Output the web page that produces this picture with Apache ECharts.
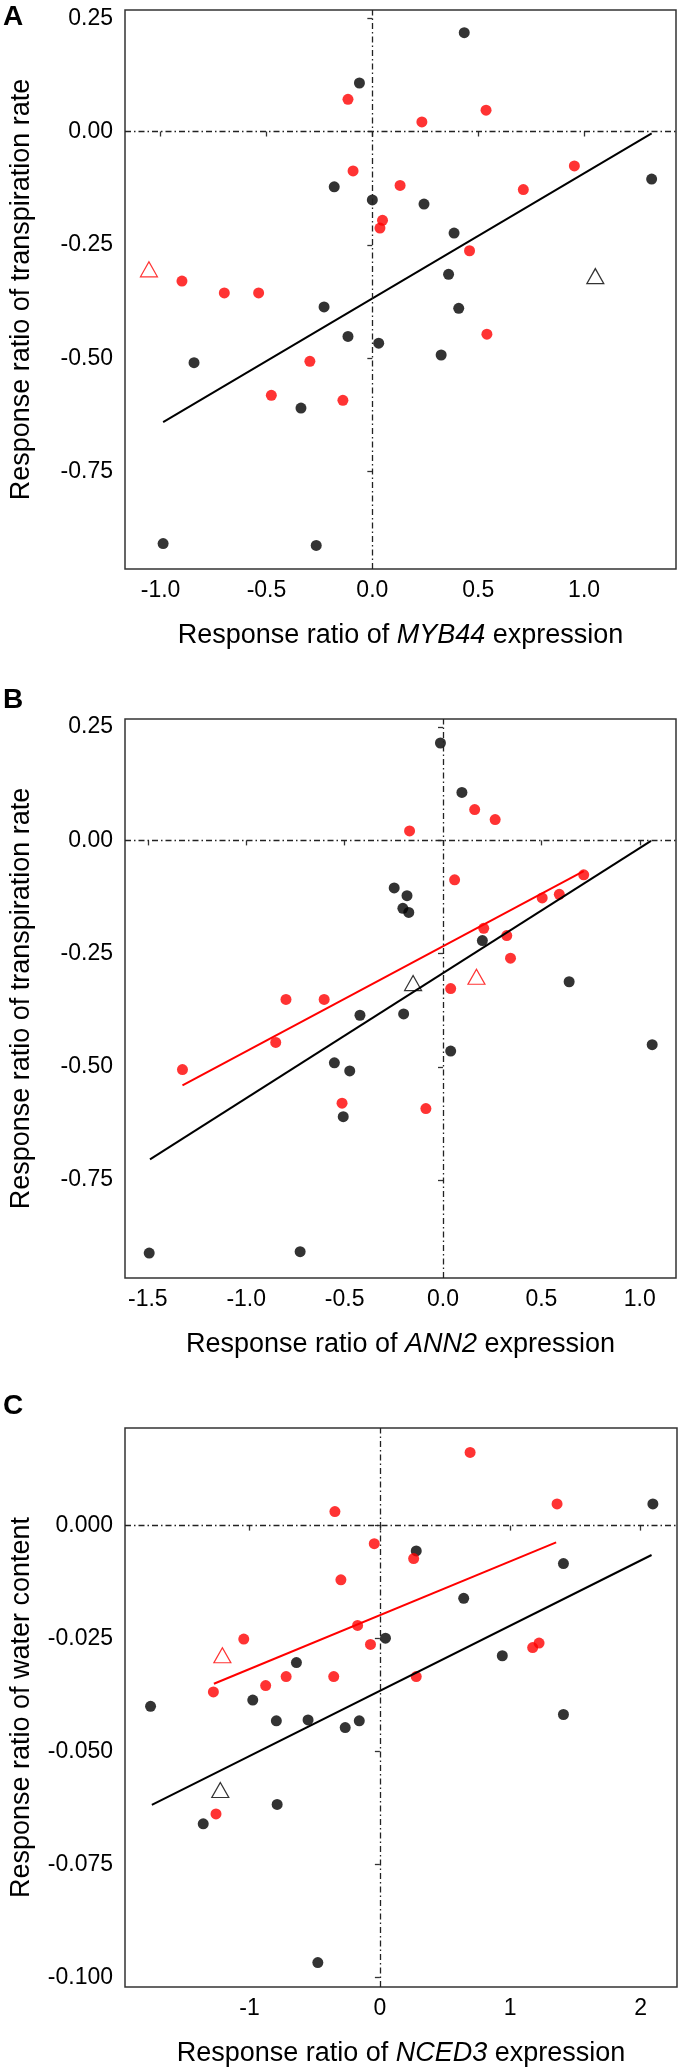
<!DOCTYPE html>
<html><head><meta charset="utf-8">
<script src="https://cdn.jsdelivr.net/npm/echarts@6/dist/echarts.min.js"></script>
<style>html,body{margin:0;padding:0;background:#fff}#c{width:681px;height:2070px}</style>
</head><body><div id="c"></div><script>
// ---------- Panel A : MYB44 vs transpiration rate ----------
const aBlack = [[0.434,0.218],[-0.061,0.107],[-0.18,-0.122],[0.0,-0.151],[0.244,-0.160],[0.386,-0.224],[1.319,-0.105],[0.36,-0.315],[-0.228,-0.387],[0.408,-0.390],[-0.115,-0.452],[0.030,-0.467],[0.325,-0.493],[-0.842,-0.510],[-0.337,-0.610],[-0.988,-0.909],[-0.265,-0.913]];
const aRed = [[-0.115,0.071],[0.537,0.047],[0.234,0.021],[-0.091,-0.087],[0.131,-0.119],[0.713,-0.128],[0.954,-0.076],[0.048,-0.196],[0.036,-0.213],[0.459,-0.263],[-0.899,-0.330],[-0.699,-0.356],[-0.537,-0.356],[0.541,-0.447],[-0.295,-0.507],[-0.477,-0.582],[-0.139,-0.593]];
const aTriBlack = [[1.053,-0.319]];
const aTriRed = [[-1.055,-0.304]];
const aFitBlack = [[-0.988,-0.641],[1.319,-0.004]];
const aXTicks = [-1.0,-0.5,0,0.5,1.0];

// ---------- Panel B : ANN2 vs transpiration rate ----------
const bBlack = [[-0.013,0.215],[0.096,0.106],[-0.248,-0.105],[-0.183,-0.122],[-0.204,-0.150],[-0.174,-0.159],[0.2,-0.221],[0.641,-0.312],[-0.422,-0.386],[-0.2,-0.383],[0.039,-0.465],[1.063,-0.451],[-0.552,-0.491],[-0.474,-0.509],[-0.507,-0.610],[-1.493,-0.911],[-0.726,-0.908]];
const bRed = [[-0.170,0.021],[0.161,0.068],[0.265,0.046],[0.059,-0.087],[0.504,-0.127],[0.591,-0.119],[0.715,-0.076],[0.207,-0.194],[0.324,-0.210],[0.343,-0.260],[0.039,-0.327],[-0.798,-0.351],[-0.604,-0.351],[-0.850,-0.446],[-1.324,-0.506],[-0.513,-0.580],[-0.087,-0.592]];
const bTriBlack = [[-0.152,-0.315]];
const bTriRed = [[0.170,-0.301]];
const bFitBlack = [[-1.489,-0.704],[1.057,-0.001]];
const bFitRed = [[-1.324,-0.541],[0.715,-0.068]];
const bXTicks = [-1.5,-1.0,-0.5,0,0.5,1.0];

// shared y ticks for transpiration panels
const tYTicks = [0.25,0,-0.25,-0.5,-0.75];

// ---------- Panel C : NCED3 vs water content ----------
const cBlack = [[2.094,0.0048],[0.279,-0.0056],[1.408,-0.0084],[0.643,-0.0161],[0.043,-0.0249],[0.939,-0.0288],[-0.640,-0.0303],[-0.975,-0.0386],[-1.759,-0.0400],[1.408,-0.0418],[-0.794,-0.0432],[-0.551,-0.0430],[-0.158,-0.0432],[-0.266,-0.0447],[-0.788,-0.0617],[-1.355,-0.0660],[-0.476,-0.0967]];
const cRed = [[0.692,0.0162],[1.359,0.0048],[-0.345,0.0031],[-0.043,-0.0040],[0.259,-0.0073],[-0.299,-0.0120],[-0.171,-0.0221],[-1.044,-0.0251],[-0.072,-0.0263],[1.172,-0.0270],[1.221,-0.0260],[-0.719,-0.0334],[-0.354,-0.0334],[0.279,-0.0334],[-0.876,-0.0354],[-1.277,-0.0368],[-1.257,-0.0638]];
const cTriBlack = [[-1.224,-0.0585]];
const cTriRed = [[-1.208,-0.0287]];
const cFitBlack = [[-1.749,-0.0618],[2.084,-0.0065]];
const cFitRed = [[-1.273,-0.0350],[1.352,-0.0037]];
const cXTicks = [-1,0,1,2];
const cYTicks = [0,-0.025,-0.05,-0.075,-0.1];

const FONT = '"Liberation Sans", Arial, Helvetica, sans-serif';
const RED = '#ff0000', BLK = '#000000', AX = '#333333';

const panels = [
  {letter:'A', letterY:17, grid:{left:116, top:10, width:560, height:559}, xr:[-1.168,1.434], yr:[-0.965,0.268],
   xt:aXTicks, yt:tYTicks, xd:1, yd:2, gene:'MYB44', ytitle:'Response ratio of transpiration rate',
   black:aBlack, red:aRed, triB:aTriBlack, triR:aTriRed, fitB:aFitBlack, fitR:null},
  {letter:'B', letterY:700, grid:{left:116, top:719, width:560, height:559}, xr:[-1.616,1.184], yr:[-0.966,0.268],
   xt:bXTicks, yt:tYTicks, xd:1, yd:2, gene:'ANN2', ytitle:'Response ratio of transpiration rate',
   black:bBlack, red:bRed, triB:bTriBlack, triR:bTriRed, fitB:bFitBlack, fitR:bFitRed},
  {letter:'C', letterY:1406, grid:{left:116, top:1428, width:561, height:559}, xr:[-1.955,2.279], yr:[-0.1021,0.0216],
   xt:cXTicks, yt:cYTicks, xd:0, yd:3, gene:'NCED3', ytitle:'Response ratio of water content',
   black:cBlack, red:cRed, triB:cTriBlack, triR:cTriRed, fitB:cFitBlack, fitR:cFitRed}
];

const option = {animation:false, backgroundColor:'#fff', grid:[], xAxis:[], yAxis:[], series:[], graphic:[]};
const dash = [6,3,1.5,3];

panels.forEach((p, i) => {
  option.grid.push(Object.assign({show:true, borderColor:AX, borderWidth:1.5, backgroundColor:'transparent'}, p.grid));
  option.xAxis.push({
    gridIndex:i, type:'value', min:p.xr[0], max:p.xr[1],
    axisLine:{show:false}, splitLine:{show:false},
    axisTick:{show:true, length:5, customValues:p.xt, lineStyle:{color:AX, width:1.3}},
    axisLabel:{customValues:p.xt, margin:10, fontSize:23, fontFamily:FONT, color:'#000', hideOverlap:false,
      formatter:v => v.toFixed(p.xd)},
    name:'Response ratio of {i|' + p.gene + '} expression', nameLocation:'middle', nameGap:53,
    nameTextStyle:{fontSize:27, fontFamily:FONT, color:'#000', lineHeight:27,
      rich:{i:{fontStyle:'italic', fontSize:27, fontFamily:FONT, color:'#000', lineHeight:27}}}
  });
  option.yAxis.push({
    gridIndex:i, type:'value', min:p.yr[0], max:p.yr[1],
    axisLine:{show:false}, splitLine:{show:false},
    axisTick:{show:true, length:5, customValues:p.yt, lineStyle:{color:AX, width:1.3}},
    axisLabel:{customValues:p.yt, margin:12, fontSize:23, fontFamily:FONT, color:'#000', hideOverlap:false,
      formatter:v => v.toFixed(p.yd)},
    name:p.ytitle, nameLocation:'middle', nameRotate:90, nameGap:90,
    nameTextStyle:{fontSize:27, fontFamily:FONT, color:'#000', lineHeight:27}
  });
  option.series.push({
    type:'scatter', xAxisIndex:i, yAxisIndex:i, data:p.black, symbol:'circle', symbolSize:11,
    itemStyle:{color:BLK}, z:3,
    markLine:{silent:true, symbol:['none','none'], label:{show:false}, animation:false,
      lineStyle:{type:dash, color:'#222', width:1.3}, emphasis:{disabled:true},
      data:[{xAxis:0},{yAxis:0}]}
  });
  option.series.push({type:'scatter', xAxisIndex:i, yAxisIndex:i, data:p.red, symbol:'circle', symbolSize:11,
    itemStyle:{color:RED}, z:3});
  option.series.push({type:'scatter', xAxisIndex:i, yAxisIndex:i, data:p.triB, symbol:'triangle', symbolSize:[17,15],
    itemStyle:{color:'rgba(0,0,0,0)', borderColor:BLK, borderWidth:1.2}, z:3});
  option.series.push({type:'scatter', xAxisIndex:i, yAxisIndex:i, data:p.triR, symbol:'triangle', symbolSize:[17,15],
    itemStyle:{color:'rgba(0,0,0,0)', borderColor:RED, borderWidth:1.2}, z:3});
  option.series.push({type:'line', xAxisIndex:i, yAxisIndex:i, data:p.fitB, showSymbol:false, symbol:'none',
    lineStyle:{color:BLK, width:2}, z:4});
  if (p.fitR) option.series.push({type:'line', xAxisIndex:i, yAxisIndex:i, data:p.fitR, showSymbol:false, symbol:'none',
    lineStyle:{color:RED, width:2}, z:4});
  option.graphic.push({type:'text', left:3, top:p.letterY - 14, z:10,
    style:{text:p.letter, font:'bold 28px ' + FONT, fill:'#000'}});
});

const chart = echarts.init(document.getElementById('c'), null, {renderer:'canvas'});
chart.setOption(option);
</script></body></html>
